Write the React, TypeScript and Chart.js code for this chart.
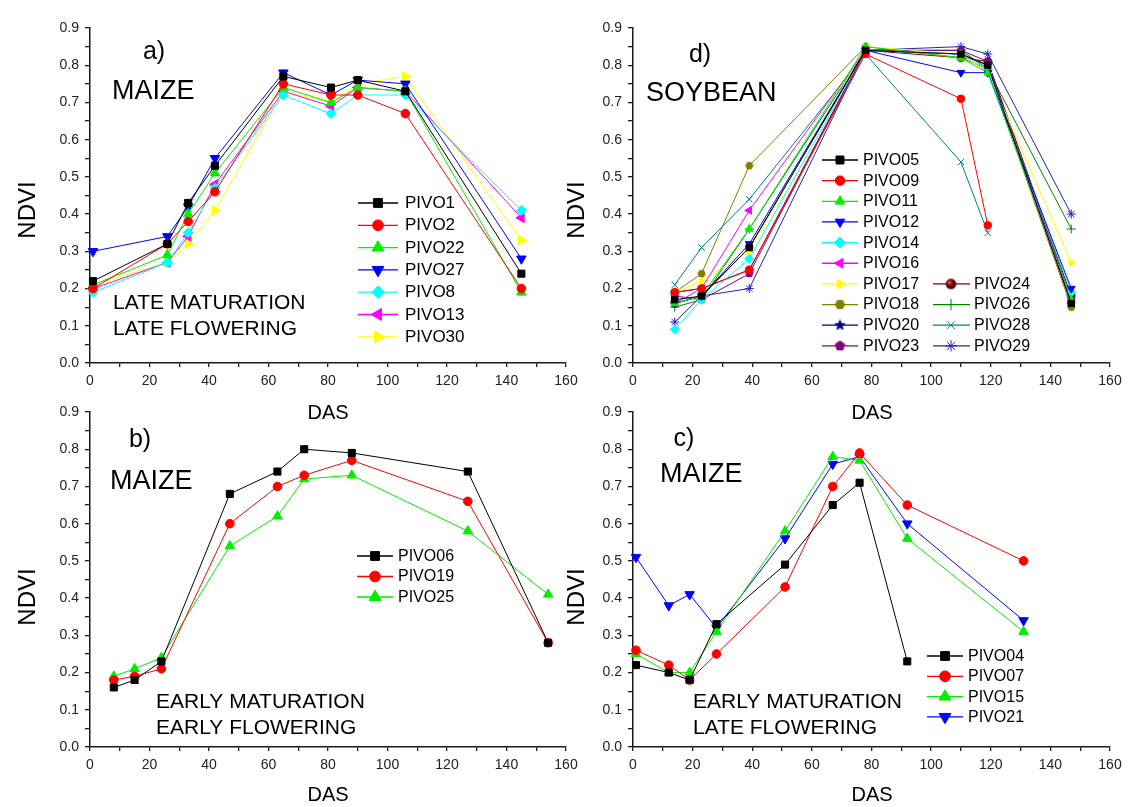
import React, { useEffect, useRef } from 'react';
import { Chart, registerables } from 'chart.js';
import { drawPoint } from 'chart.js/helpers';

Chart.register(...registerables);

const FONT = '"Liberation Sans", Arial, Helvetica, sans-serif';

// ---------------- Data ----------------
// a) Maize, late maturation / late flowering
const dasA = [1, 26, 33, 42, 65, 81, 90, 106, 145];
const a_PIVO1 = [0.22, 0.32, 0.43, 0.53, 0.77, 0.74, 0.76, 0.73, 0.24];
const a_PIVO2 = [0.2, 0.32, 0.38, 0.46, 0.75, 0.72, 0.72, 0.67, 0.2];
const a_PIVO22 = [0.21, 0.29, 0.4, 0.51, 0.74, 0.7, 0.74, 0.73, 0.19];
const a_PIVO27 = [0.3, 0.34, 0.42, 0.55, 0.78, 0.72, 0.76, 0.75, 0.28];
const a_PIVO8 = [0.19, 0.27, 0.35, 0.47, 0.72, 0.67, 0.72, 0.72, 0.41];
const a_PIVO13 = [0.2, 0.27, 0.34, 0.48, 0.73, 0.69, 0.74, 0.73, 0.39];
const a_PIVO30 = [0.21, 0.27, 0.32, 0.41, 0.73, 0.7, 0.75, 0.77, 0.33];

// d) Soybean
const dasD = [14, 23, 39, 78, 110, 119, 147];
const d_PIVO05 = [0.17, 0.18, 0.31, 0.84, 0.83, 0.8, 0.16];
const d_PIVO09 = [0.19, 0.2, 0.25, 0.83, 0.71, 0.37];
const d_PIVO11 = [0.16, 0.18, 0.36, 0.85, 0.82, 0.78, 0.17];
const d_PIVO12 = [0.16, 0.18, 0.32, 0.84, 0.78, 0.78, 0.2];
const d_PIVO14 = [0.09, 0.17, 0.28, 0.84, 0.83, 0.79, 0.19];
const d_PIVO16 = [0.16, 0.2, 0.41, 0.84, 0.83, 0.8, 0.16];
const d_PIVO17 = [0.19, 0.22, 0.3, 0.85, 0.83, 0.78, 0.27];
const d_PIVO18 = [0.19, 0.24, 0.53, 0.85, 0.82, 0.79, 0.15];
const d_PIVO20 = [0.16, 0.18, 0.31, 0.84, 0.83, 0.8, 0.16];
const d_PIVO23 = [0.18, 0.17, 0.24, 0.84, 0.84, 0.81, 0.17];
const d_PIVO24 = [0.19, 0.2, 0.25, 0.84, 0.82, 0.81, 0.18];
const d_PIVO26 = [0.15, 0.17, 0.36, 0.84, 0.84, 0.79, 0.36];
const d_PIVO28 = [0.21, 0.31, 0.44, 0.83, 0.54, 0.35];
const d_PIVO29 = [0.11, 0.18, 0.2, 0.84, 0.85, 0.83, 0.4];

// b) Maize, early maturation / early flowering
const dasB = [8, 15, 24, 47, 63, 72, 88, 127, 154];
const b_PIVO06 = [0.16, 0.18, 0.23, 0.68, 0.74, 0.8, 0.79, 0.74, 0.28];
const b_PIVO19 = [0.18, 0.19, 0.21, 0.6, 0.7, 0.73, 0.77, 0.66, 0.28];
const b_PIVO25 = [0.19, 0.21, 0.24, 0.54, 0.62, 0.72, 0.73, 0.58, 0.41];

// c) Maize, early maturation / late flowering
const dasC = [1, 12, 19, 28, 51, 67, 76, 92, 131];
const c_PIVO04 = [0.22, 0.2, 0.18, 0.33, 0.49, 0.65, 0.71, 0.23];
const c_PIVO07 = [0.26, 0.22, 0.18, 0.25, 0.43, 0.7, 0.79, 0.65, 0.5];
const c_PIVO15 = [0.25, 0.2, 0.2, 0.31, 0.58, 0.78, 0.77, 0.56, 0.31];
const c_PIVO21 = [0.51, 0.38, 0.41, 0.32, 0.56, 0.76, 0.78, 0.6, 0.34];

// axis ticks
const xTickValues = [0, 10, 20, 30, 40, 50, 60, 70, 80, 90, 100, 110, 120, 130, 140, 150, 160];
const yTickValues = [0, 0.05, 0.1, 0.15, 0.2, 0.25, 0.3, 0.35, 0.4, 0.45, 0.5, 0.55, 0.6, 0.65, 0.7, 0.75, 0.8, 0.85, 0.9];

// ---------------- Styles ----------------
type Marker = { kind: string; rot?: number; r: number };
type SeriesDef = { name: string; values: number[]; color: string; marker: Marker; col?: number; row?: number };

const shapeCache: Record<string, HTMLCanvasElement> = {};
function shapeCanvas(kind: string, color: string, r: number): HTMLCanvasElement {
  const key = kind + color + r;
  if (shapeCache[key]) return shapeCache[key];
  const size = Math.ceil(2 * r + 2);
  const c = document.createElement('canvas');
  c.width = size;
  c.height = size;
  const g = c.getContext('2d')!;
  const cx = size / 2;
  const cy = size / 2;
  g.beginPath();
  if (kind === 'star5') {
    for (let i = 0; i < 10; i++) {
      const rr = i % 2 === 0 ? r : r * 0.45;
      const a = -Math.PI / 2 + (i * Math.PI) / 5;
      const px = cx + rr * Math.cos(a);
      const py = cy + rr * Math.sin(a);
      if (i === 0) g.moveTo(px, py);
      else g.lineTo(px, py);
    }
    g.closePath();
    g.fillStyle = color;
    g.fill();
  } else if (kind === 'pentagon' || kind === 'hexagon') {
    const n = kind === 'pentagon' ? 5 : 6;
    const start = kind === 'pentagon' ? -Math.PI / 2 : 0;
    for (let i = 0; i < n; i++) {
      const a = start + (i * 2 * Math.PI) / n;
      const px = cx + r * Math.cos(a);
      const py = cy + r * Math.sin(a);
      if (i === 0) g.moveTo(px, py);
      else g.lineTo(px, py);
    }
    g.closePath();
    g.fillStyle = color;
    g.fill();
  } else if (kind === 'sphere') {
    const grad = g.createRadialGradient(cx - r * 0.35, cy - r * 0.35, r * 0.1, cx, cy, r);
    grad.addColorStop(0, '#e06060');
    grad.addColorStop(0.5, color);
    grad.addColorStop(1, '#400000');
    g.arc(cx, cy, r, 0, Math.PI * 2);
    g.fillStyle = grad;
    g.fill();
  }
  shapeCache[key] = c;
  return c;
}

function pointStyleOf(m: Marker, color: string, scale = 1): any {
  if (m.kind === 'star5' || m.kind === 'pentagon' || m.kind === 'hexagon' || m.kind === 'sphere') {
    return shapeCanvas(m.kind, color, m.r * scale);
  }
  return m.kind;
}

const SQ = (r: number): Marker => ({ kind: 'rect', r });
const CI = (r: number): Marker => ({ kind: 'circle', r });
const UP = (r: number): Marker => ({ kind: 'triangle', r });
const DN = (r: number): Marker => ({ kind: 'triangle', rot: 180, r });
const LT = (r: number): Marker => ({ kind: 'triangle', rot: 270, r });
const RT = (r: number): Marker => ({ kind: 'triangle', rot: 90, r });
const DI = (r: number): Marker => ({ kind: 'rectRot', r });

type TextDef = { t: string; x: number; y: number; size: number; align?: CanvasTextAlign };
type LegendDef = { x1: number; x2: number; mx: number; tx: number; y0: number; dy: number; size: number; col2?: { x1: number; x2: number; mx: number; tx: number } };
type Panel = {
  id: string;
  area: { l: number; r: number; t: number; b: number };
  das: number[];
  series: SeriesDef[];
  legend: LegendDef;
  texts: TextDef[];
  ndvi: { x: number; y: number };
  dasLabel: { x: number; y: number };
};

const panels: Panel[] = [
  {
    id: 'a',
    area: { l: 90, r: 566, t: 28, b: 363 },
    das: dasA,
    series: [
      { name: 'PIVO1', values: a_PIVO1, color: '#000000', marker: SQ(5) },
      { name: 'PIVO2', values: a_PIVO2, color: '#FF0000', marker: CI(4.3) },
      { name: 'PIVO22', values: a_PIVO22, color: '#00EE00', marker: UP(5.5) },
      { name: 'PIVO27', values: a_PIVO27, color: '#0000FF', marker: DN(5.5) },
      { name: 'PIVO8', values: a_PIVO8, color: '#00FFFF', marker: DI(5) },
      { name: 'PIVO13', values: a_PIVO13, color: '#FF00FF', marker: LT(5.5) },
      { name: 'PIVO30', values: a_PIVO30, color: '#FFFF00', marker: RT(5.5) },
    ],
    legend: { x1: 358, x2: 398, mx: 378, tx: 405, y0: 203, dy: 22.3, size: 17 },
    texts: [
      { t: 'a)', x: 154, y: 52, size: 25, align: 'center' },
      { t: 'MAIZE', x: 112, y: 92, size: 27 },
      { t: 'LATE MATURATION', x: 113, y: 303, size: 21 },
      { t: 'LATE FLOWERING', x: 113, y: 329, size: 21 },
    ],
    ndvi: { x: 28, y: 210 },
    dasLabel: { x: 328, y: 413 },
  },
  {
    id: 'd',
    area: { l: 633, r: 1110, t: 28, b: 363 },
    das: dasD,
    series: [
      { name: 'PIVO05', values: d_PIVO05, color: '#000000', marker: SQ(4.5), col: 0, row: 0 },
      { name: 'PIVO09', values: d_PIVO09, color: '#FF0000', marker: CI(3.8), col: 0, row: 1 },
      { name: 'PIVO11', values: d_PIVO11, color: '#00EE00', marker: UP(4.5), col: 0, row: 2 },
      { name: 'PIVO12', values: d_PIVO12, color: '#0000FF', marker: DN(4.5), col: 0, row: 3 },
      { name: 'PIVO14', values: d_PIVO14, color: '#00FFFF', marker: DI(4.5), col: 0, row: 4 },
      { name: 'PIVO16', values: d_PIVO16, color: '#FF00FF', marker: LT(4.5), col: 0, row: 5 },
      { name: 'PIVO17', values: d_PIVO17, color: '#FFFF00', marker: RT(4.5), col: 0, row: 6 },
      { name: 'PIVO18', values: d_PIVO18, color: '#808000', marker: { kind: 'hexagon', r: 4.2 }, col: 0, row: 7 },
      { name: 'PIVO20', values: d_PIVO20, color: '#000080', marker: { kind: 'star5', r: 5 }, col: 0, row: 8 },
      { name: 'PIVO23', values: d_PIVO23, color: '#800080', marker: { kind: 'pentagon', r: 4.4 }, col: 0, row: 9 },
      { name: 'PIVO24', values: d_PIVO24, color: '#800000', marker: { kind: 'sphere', r: 4.2 }, col: 1, row: 6 },
      { name: 'PIVO26', values: d_PIVO26, color: '#008000', marker: { kind: 'cross', r: 4.5 }, col: 1, row: 7 },
      { name: 'PIVO28', values: d_PIVO28, color: '#008080', marker: { kind: 'crossRot', r: 4.5 }, col: 1, row: 8 },
      { name: 'PIVO29', values: d_PIVO29, color: '#2020C0', marker: { kind: 'star', r: 4.5 }, col: 1, row: 9 },
    ],
    legend: {
      x1: 822, x2: 858, mx: 840, tx: 863, y0: 160, dy: 20.65, size: 16,
      col2: { x1: 933, x2: 970, mx: 951, tx: 974 },
    },
    texts: [
      { t: 'd)', x: 700, y: 55, size: 25, align: 'center' },
      { t: 'SOYBEAN', x: 646, y: 94, size: 27 },
    ],
    ndvi: { x: 577, y: 210 },
    dasLabel: { x: 872, y: 413 },
  },
  {
    id: 'b',
    area: { l: 90, r: 566, t: 412, b: 747 },
    das: dasB,
    series: [
      { name: 'PIVO06', values: b_PIVO06, color: '#000000', marker: SQ(5) },
      { name: 'PIVO19', values: b_PIVO19, color: '#FF0000', marker: CI(4.3) },
      { name: 'PIVO25', values: b_PIVO25, color: '#00EE00', marker: UP(5.5) },
    ],
    legend: { x1: 357, x2: 393, mx: 375, tx: 398, y0: 556, dy: 20.5, size: 16 },
    texts: [
      { t: 'b)', x: 140, y: 440, size: 25, align: 'center' },
      { t: 'MAIZE', x: 110, y: 482, size: 27 },
      { t: 'EARLY MATURATION', x: 156, y: 702, size: 21 },
      { t: 'EARLY FLOWERING', x: 156, y: 728, size: 21 },
    ],
    ndvi: { x: 28, y: 597 },
    dasLabel: { x: 328, y: 795 },
  },
  {
    id: 'c',
    area: { l: 633, r: 1110, t: 412, b: 747 },
    das: dasC,
    series: [
      { name: 'PIVO04', values: c_PIVO04, color: '#000000', marker: SQ(5) },
      { name: 'PIVO07', values: c_PIVO07, color: '#FF0000', marker: CI(4.3) },
      { name: 'PIVO15', values: c_PIVO15, color: '#00EE00', marker: UP(5.5) },
      { name: 'PIVO21', values: c_PIVO21, color: '#0000FF', marker: DN(5.5) },
    ],
    legend: { x1: 927, x2: 963, mx: 945, tx: 968, y0: 656, dy: 20.3, size: 16 },
    texts: [
      { t: 'c)', x: 684, y: 439, size: 25, align: 'center' },
      { t: 'MAIZE', x: 660, y: 475, size: 27 },
      { t: 'EARLY MATURATION', x: 693, y: 702, size: 21 },
      { t: 'LATE FLOWERING', x: 693, y: 728, size: 21 },
    ],
    ndvi: { x: 577, y: 597 },
    dasLabel: { x: 872, y: 795 },
  },
];

const W = 1132;
const H = 807;
const YW = 50;
const XH = 30;
const AXIS = '#1a1a1a';
const TICKTEXT = '#222222';

function decoPlugin(p: Panel) {
  return {
    id: 'deco_' + p.id,
    afterDatasetsDraw(chart: any) {
      const ctx: CanvasRenderingContext2D = chart.ctx;
      ctx.save();
      ctx.fillStyle = '#000';
      ctx.textBaseline = 'middle';
      // free texts
      for (const t of p.texts) {
        ctx.font = `${t.size}px ${FONT}`;
        ctx.textAlign = t.align || 'left';
        ctx.fillText(t.t, t.x, t.y);
      }
      // axis titles
      ctx.font = `24px ${FONT}`;
      ctx.textAlign = 'center';
      ctx.save();
      ctx.translate(p.ndvi.x, p.ndvi.y);
      ctx.rotate(-Math.PI / 2);
      ctx.fillText('NDVI', 0, 0);
      ctx.restore();
      ctx.font = `20px ${FONT}`;
      ctx.fillText('DAS', p.dasLabel.x, p.dasLabel.y);

      // legend
      const L = p.legend;
      p.series.forEach((s, i) => {
        const col = s.col || 0;
        const row = s.row !== undefined ? s.row : i;
        const g = col === 1 && L.col2 ? L.col2 : L;
        const y = L.y0 + row * L.dy;
        ctx.strokeStyle = s.color;
        ctx.lineWidth = 1.3;
        ctx.beginPath();
        ctx.moveTo(g.x1, y);
        ctx.lineTo(g.x2, y);
        ctx.stroke();
        ctx.fillStyle = s.color;
        ctx.strokeStyle = s.color;
        ctx.lineWidth = 1;
        drawPoint(ctx, {
          pointStyle: pointStyleOf(s.marker, s.color, 1.25),
          rotation: s.marker.rot || 0,
          radius: s.marker.r * 1.25,
          borderWidth: 1,
        } as any, g.mx, y);
        ctx.fillStyle = '#000';
        ctx.font = `${L.size}px ${FONT}`;
        ctx.textAlign = 'left';
        ctx.fillText(s.name, g.tx, y + 0.5);
      });
      ctx.restore();
    },
  };
}

function buildConfig(p: Panel): any {
  const datasets = p.series.map((s) => ({
    label: s.name,
    data: s.values.map((v, i) => ({ x: p.das[i], y: v })),
    borderColor: s.color,
    backgroundColor: s.color,
    borderWidth: 1,
    pointStyle: pointStyleOf(s.marker, s.color),
    pointRotation: s.marker.rot || 0,
    pointRadius: s.marker.r,
    pointBorderWidth: 1,
    pointBackgroundColor: s.color,
    pointBorderColor: s.color,
    tension: 0,
    clip: false,
  }));
  return {
    type: 'line',
    data: { datasets },
    options: {
      responsive: false,
      animation: false,
      devicePixelRatio: 1,
      events: [],
      layout: {
        padding: {
          left: p.area.l - YW,
          top: p.area.t,
          right: W - p.area.r,
          bottom: H - p.area.b - XH,
        },
      },
      plugins: {
        legend: { display: false },
        tooltip: { enabled: false },
        title: { display: false },
      },
      scales: {
        x: {
          type: 'linear',
          min: 0,
          max: 160,
          afterFit: (s: any) => {
            s.height = XH;
          },
          afterBuildTicks: (s: any) => {
            s.ticks = xTickValues.map((v) => ({ value: v }));
          },
          ticks: {
            autoSkip: false,
            maxRotation: 0,
            minRotation: 0,
            padding: 6,
            color: TICKTEXT,
            font: { family: FONT, size: 14 },
            callback: (v: any) => (Number(v) % 20 === 0 ? String(v) : ''),
          },
          grid: {
            drawOnChartArea: false,
            drawTicks: true,
            tickLength: 4,
            color: AXIS,
            tickColor: AXIS,
            lineWidth: 1.3,
          },
          border: { display: true, color: AXIS, width: 1.5 },
        },
        y: {
          type: 'linear',
          min: 0,
          max: 0.9,
          afterFit: (s: any) => {
            s.width = YW;
          },
          afterBuildTicks: (s: any) => {
            s.ticks = yTickValues.map((v) => ({ value: v }));
          },
          ticks: {
            autoSkip: false,
            padding: 6,
            color: TICKTEXT,
            font: { family: FONT, size: 14 },
            callback: (v: any) => {
              const n = Math.round(Number(v) * 100);
              return n % 10 === 0 ? (n / 100).toFixed(1) : '';
            },
          },
          grid: {
            drawOnChartArea: false,
            drawTicks: true,
            tickLength: 5,
            color: AXIS,
            tickColor: AXIS,
            lineWidth: 1.3,
          },
          border: { display: true, color: AXIS, width: 1.5 },
        },
      },
    },
    plugins: [decoPlugin(p)],
  };
}

export default function App() {
  const canvRefs = useRef<(HTMLCanvasElement | null)[]>([]);
  useEffect(() => {
    const charts = panels.map((p, i) => new Chart(canvRefs.current[i]!, buildConfig(p)));
    return () => {
      charts.forEach((c) => c.destroy());
    };
  }, []);
  return (
    <div
      style={{
        position: 'absolute',
        left: 0,
        top: 0,
        width: W,
        height: H,
        background: '#ffffff',
        overflow: 'hidden',
      }}
    >
      {panels.map((p, i) => (
        <canvas
          key={p.id}
          ref={(el) => {
            canvRefs.current[i] = el;
          }}
          width={W}
          height={H}
          style={{ position: 'absolute', left: 0, top: 0, width: W, height: H }}
        />
      ))}
    </div>
  );
}
